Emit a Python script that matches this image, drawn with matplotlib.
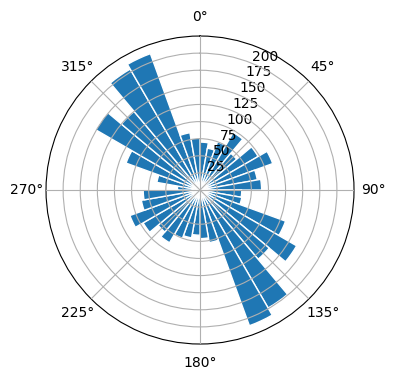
import numpy as np
import matplotlib
matplotlib.use("Agg")
import matplotlib.pyplot as plt

# 10-degree direction bins (left edges, degrees)
bin_edges_deg = list(range(0, 360, 10))
counts = [70, 62, 75, 97, 70, 98, 113, 85, 90,
          61, 62, 133, 163, 132, 199, 211, 78, 71,
          66, 71, 75, 89, 80, 96, 109, 87, 83,
          33, 64, 115, 176, 150, 204, 212, 85, 76]
r_ticks = [25, 50, 75, 100, 125, 150, 175, 200]
r_max = 225

fig = plt.figure(figsize=(3.96, 3.80), dpi=100)
ax = fig.add_axes([0.1162, 0.0947, 0.7778, 0.8105], projection="polar")
ax.set_theta_zero_location("N")
ax.set_theta_direction(-1)

theta = np.deg2rad(bin_edges_deg)
width = np.deg2rad(10)
ax.bar(theta, counts, width=width, align="edge", color="#1f77b4",
       edgecolor="white", linewidth=1)
ax.set_ylim(0, r_max)
ax.set_yticks(r_ticks)
ax.set_axisbelow(False)

fig.savefig("out.png", dpi=100)
